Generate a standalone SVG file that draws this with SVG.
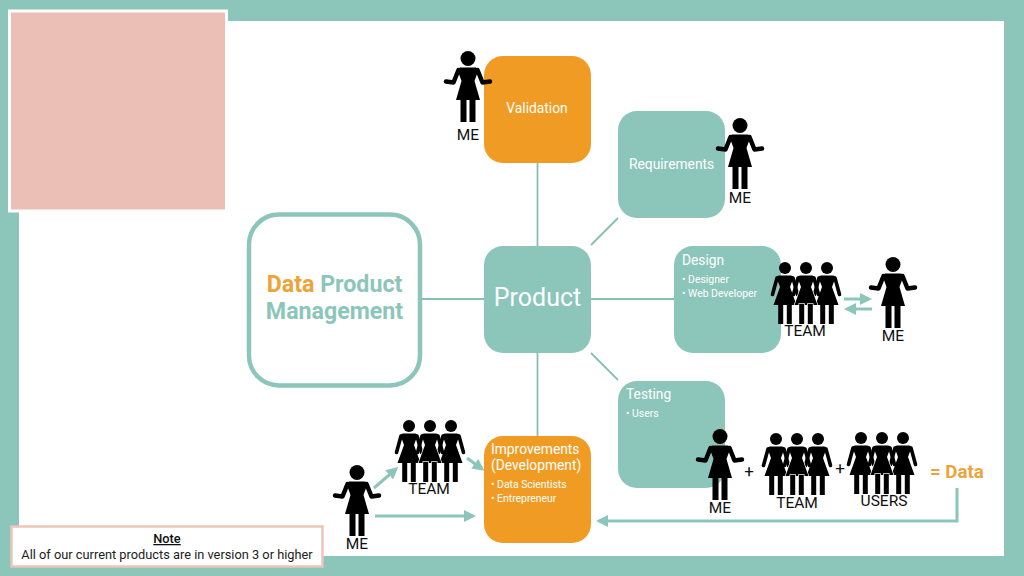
<svg xmlns="http://www.w3.org/2000/svg" width="1024" height="576" viewBox="0 0 1024 576">
<style>
text{font-family:Roboto,"Liberation Sans",sans-serif}
.teal{fill:#8cc6ba}.orange{fill:#f09c24}
.lab{font-size:15.500px;fill:#111;text-anchor:middle}
.sub{font-size:10.400px;fill:#fff}
.head{font-size:13.800px;fill:#fff}
.conn{stroke:#86bfb3;stroke-width:1.800;fill:none}
.arr{stroke:#8cc6ba;stroke-width:3;fill:none;marker-end:url(#ah)}
</style>
<defs>
<marker id="ah" markerWidth="4" markerHeight="4" refX="3" refY="2" orient="auto" markerUnits="strokeWidth"><path d="M0,0L4,2L0,4Z" fill="#8cc6ba"/></marker>
<g id="me"><circle cx="0" cy="7.500" r="7.500"/><path d="M-8,16.500H8Q10,17 10.500,19L6.500,30L12,49H-12L-6.500,30L-10.500,19Q-10,17 -8,16.500Z"/><path d="M9.500,19L14.500,31.500L22,30.500M-9.500,19L-14.500,31.500L-22,30.500" fill="none" stroke="#000" stroke-width="4.500" stroke-linecap="round" stroke-linejoin="round"/><rect x="-7.500" y="48" width="6" height="23"/><rect x="1.500" y="48" width="6" height="23"/></g>
<g id="wm"><circle cx="0" cy="6" r="6"/><path d="M-6,13.500H6Q8,13.500 8.500,15.500L5,25L11.500,43H-11.500L-5,25L-8.500,15.500Q-8,13.500 -6,13.500Z"/><path d="M8,16L12.500,32.500M-8,16L-12.500,32.500" fill="none" stroke="#000" stroke-width="3.600" stroke-linecap="round"/><rect x="-6.800" y="42" width="5" height="20"/><rect x="1.800" y="42" width="5" height="20"/></g>
<g id="team"><use href="#wm" x="-21"/><use href="#wm" x="21"/><use href="#wm" stroke="#fff" stroke-width="1.400" paint-order="stroke"/></g>
</defs>
<rect width="1024" height="576" class="teal"/>
<rect x="19" y="21" width="985" height="535" fill="#fff"/>
<g id="connectors">
<path class="conn" d="M537.500,163V246M537.500,353V436M421,299H484M591,299H674M591,245L618,218M591,353L618,380"/>
<path class="arr" d="M374,488L396,469"/>
<path class="arr" d="M467,458L482,469"/>
<path class="arr" d="M375,516H473"/>
<path class="arr" d="M844,299H869"/>
<path class="arr" d="M872,309H847"/>
<path class="arr" d="M957,488V521H599"/>
</g>
<g id="placeholder"><rect x="9.500" y="11" width="217" height="200" fill="#ebbfb5" stroke="#fff" stroke-width="3"/></g>
<g id="note">
<rect x="11.500" y="526.500" width="311" height="40" fill="#fff" stroke="#ebc5b8" stroke-width="2.500"/>
<text x="167" y="543" font-size="12.800" font-weight="500" text-anchor="middle" fill="#111" text-decoration="underline">Note</text>
<text x="167" y="558.500" font-size="12.800" text-anchor="middle" fill="#222">All of our current products are in version 3 or higher</text>
</g>
<g id="data-product-management">
<rect x="249" y="214.500" width="171" height="171" rx="30" fill="#fff" stroke="#8cc6ba" stroke-width="4.500"/>
<text x="334.500" y="291.500" font-size="23.200" font-weight="700" text-anchor="middle" fill="#8cc6ba"><tspan fill="#eda33a">Data</tspan> Product</text>
<text x="334.500" y="319" font-size="23.200" font-weight="700" text-anchor="middle" fill="#8cc6ba">Management</text>
</g>
<g id="product">
<rect x="484" y="246" width="107" height="107" rx="19" class="teal"/>
<text x="537.500" y="306" font-size="25" fill="#fff" text-anchor="middle">Product</text>
</g>
<g id="validation">
<rect x="484" y="56" width="107" height="107" rx="19" class="orange"/>
<text x="537" y="113" font-size="13.800" fill="#fff" text-anchor="middle">Validation</text>
<use href="#me" x="468" y="51"/>
<text x="468" y="140" class="lab">ME</text>
</g>
<g id="requirements">
<rect x="618" y="111" width="107" height="107" rx="19" class="teal"/>
<text x="629" y="169" class="head">Requirements</text>
<use href="#me" x="740" y="118"/>
<text x="740" y="203" class="lab">ME</text>
</g>
<g id="design">
<rect x="674" y="246" width="107" height="107" rx="19" class="teal"/>
<text x="682" y="265" class="head">Design</text>
<text x="682" y="283" class="sub">• Designer</text>
<text x="682" y="297" class="sub">• Web Developer</text>
<use href="#team" x="806" y="262"/>
<text x="805" y="336" class="lab">TEAM</text>
<use href="#me" x="893" y="257"/>
<text x="893" y="341" class="lab">ME</text>
</g>
<g id="testing">
<rect x="618" y="381" width="107" height="107" rx="19" class="teal"/>
<text x="626" y="399" class="head">Testing</text>
<text x="626" y="417" class="sub">• Users</text>
<use href="#me" x="720" y="429"/>
<text x="720" y="513" class="lab">ME</text>
<text x="749" y="477" font-size="17" fill="#111" text-anchor="middle">+</text>
<use href="#team" x="797" y="433"/>
<text x="797" y="508" class="lab">TEAM</text>
<text x="840" y="474" font-size="17" fill="#111" text-anchor="middle">+</text>
<use href="#team" x="882" y="432"/>
<text x="884" y="506" class="lab">USERS</text>
<text x="930" y="478" font-size="18.700" font-weight="700" fill="#eda33a">= Data</text>
</g>
<g id="improvements">
<rect x="484" y="436" width="107" height="107" rx="19" class="orange"/>
<text x="491" y="454" class="head">Improvements</text>
<text x="491" y="470" class="head">(Development)</text>
<text x="491" y="488" class="sub">• Data Scientists</text>
<text x="491" y="502" class="sub">• Entrepreneur</text>
<use href="#team" x="430" y="420"/>
<text x="429" y="494" class="lab">TEAM</text>
<use href="#me" x="357" y="465"/>
<text x="357" y="549" class="lab">ME</text>
</g>
</svg>
